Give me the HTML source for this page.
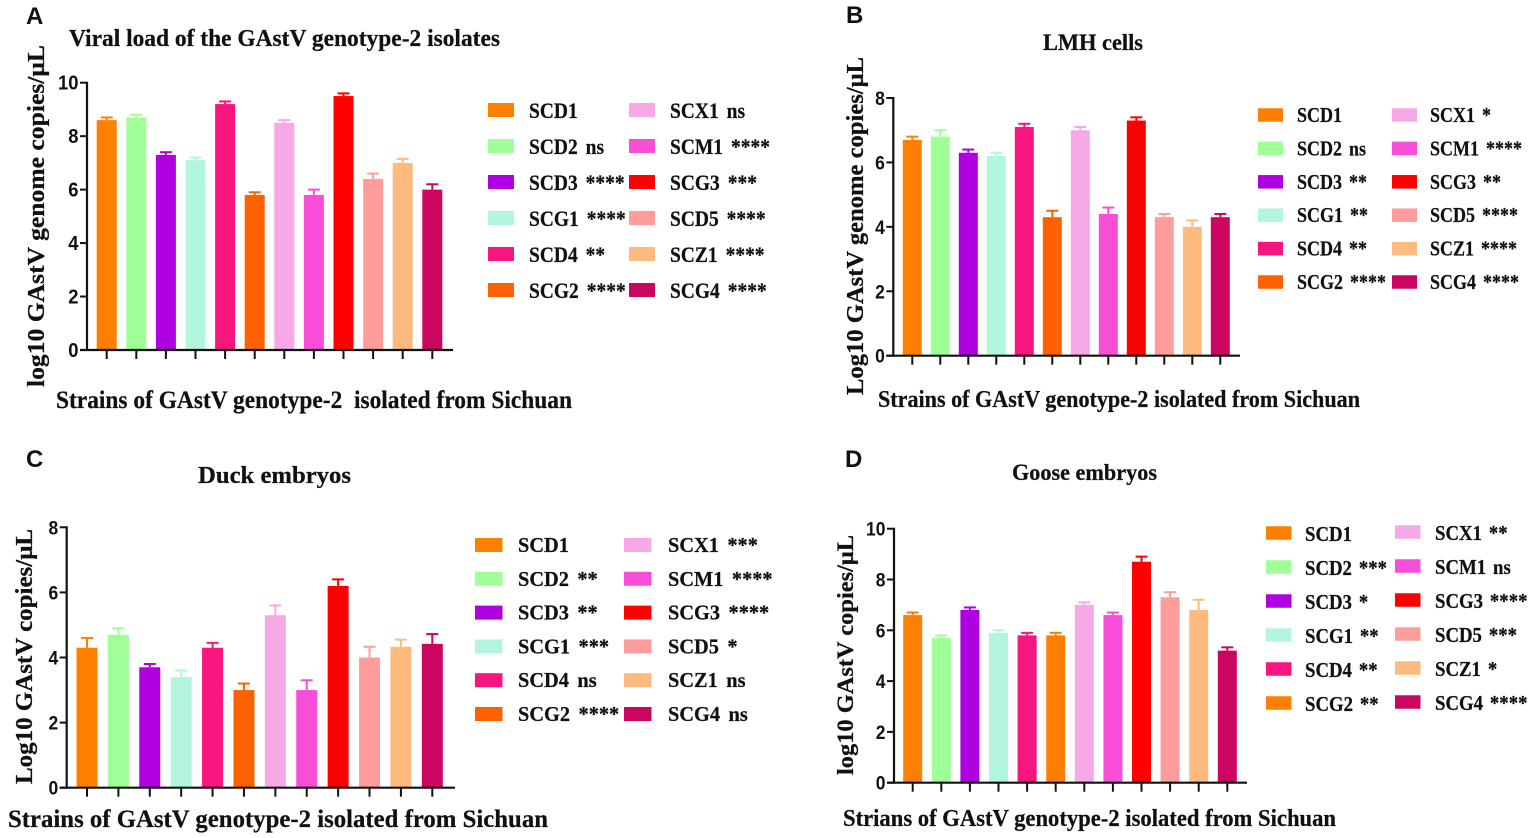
<!DOCTYPE html>
<html lang="en">
<head>
<meta charset="utf-8">
<title>Viral load of GAstV genotype-2 isolates</title>
<style>
html,body{margin:0;padding:0;background:#fff;width:1535px;height:838px;overflow:hidden}
svg{display:block;filter:blur(0.35px)}
.serif{font-family:"Liberation Serif",serif;font-weight:bold;fill:#111;stroke:#111;stroke-width:0.25px}
.sans{font-family:"Liberation Sans",sans-serif;font-weight:bold;fill:#111}
</style>
</head>
<body>
<svg id="figure" xmlns="http://www.w3.org/2000/svg" width="1535" height="838" viewBox="0 0 1535 838">
  <rect width="1535" height="838" fill="#fff"/>

  <g id="panel-a">
    <text class="sans" x="26" y="24" font-size="24">A</text>
    <text class="serif" x="69" y="46" font-size="24" textLength="431" lengthAdjust="spacingAndGlyphs">Viral load of the GAstV genotype-2 isolates</text>
    <text class="serif" x="56" y="408" font-size="25" textLength="516" lengthAdjust="spacingAndGlyphs" xml:space="preserve">Strains of GAstV genotype-2  isolated from Sichuan</text>
    <text class="serif" transform="translate(44,387) rotate(-90)" font-size="24" textLength="342" lengthAdjust="spacingAndGlyphs">log10 GAstV genome copies/μL</text>
  </g>

  <g id="panel-b">
    <text class="sans" x="846" y="23" font-size="24">B</text>
    <text class="serif" x="1043" y="50" font-size="23" textLength="100" lengthAdjust="spacingAndGlyphs">LMH cells</text>
    <text class="serif" x="878" y="407" font-size="24" textLength="482" lengthAdjust="spacingAndGlyphs">Strains of GAstV genotype-2 isolated from Sichuan</text>
    <text class="serif" transform="translate(863,395) rotate(-90)" font-size="24" textLength="338" lengthAdjust="spacingAndGlyphs">Log10 GAstV genome copies/μL</text>
  </g>

  <g id="panel-c">
    <text class="sans" x="26" y="467" font-size="24">C</text>
    <text class="serif" x="198" y="483" font-size="24" textLength="153" lengthAdjust="spacingAndGlyphs">Duck embryos</text>
    <text class="serif" x="8" y="827" font-size="25" textLength="540" lengthAdjust="spacingAndGlyphs">Strains of GAstV genotype-2 isolated from Sichuan</text>
    <text class="serif" transform="translate(32,784) rotate(-90)" font-size="24" textLength="255" lengthAdjust="spacingAndGlyphs">Log10 GAstV copies/μL</text>
  </g>

  <g id="panel-d">
    <text class="sans" x="845" y="467" font-size="24">D</text>
    <text class="serif" x="1012" y="480" font-size="23" textLength="145" lengthAdjust="spacingAndGlyphs">Goose embryos</text>
    <text class="serif" x="843" y="826" font-size="24" textLength="493" lengthAdjust="spacingAndGlyphs">Strians of GAstV genotype-2 isolated from Sichuan</text>
    <text class="serif" transform="translate(853,775) rotate(-90)" font-size="23" textLength="240" lengthAdjust="spacingAndGlyphs">log10 GAstV copies/μL</text>
  </g>
</svg>

<script>
var strainsAbc = ['SCD1','SCD2','SCD3','SCG1','SCD4','SCG2','SCX1','SCM1','SCG3','SCD5','SCZ1','SCG4'];
var barColors = ['#ff8000','#a0ff96','#ae00e0','#b2f7dd','#f7157e','#ff6000','#f7a8e6','#f94fd8','#ff0000','#ff9c9c','#ffbb7f','#cc0660'];
var barColorsD = ['#ff8000','#a0ff96','#ae00e0','#b2f7dd','#f7157e','#ff8000','#f7a8e6','#f94fd8','#ff0000','#ff9c9c','#ffbb7f','#cc0660'];

var valuesA = [8.6,8.7,7.3,7.1,9.2,5.8,8.5,5.8,9.5,6.4,7.0,6.0];
var errorsA = [0.1,0.1,0.1,0.1,0.1,0.1,0.1,0.2,0.1,0.2,0.15,0.2];
var signifA = ['','ns','****','****','**','****','ns','****','***','****','****','****'];
var ticksA = [0,2,4,6,8,10];

var valuesB = [6.7,6.8,6.3,6.2,7.1,4.3,7.0,4.4,7.3,4.3,4.0,4.3];
var errorsB = [0.1,0.2,0.1,0.1,0.1,0.2,0.1,0.2,0.1,0.1,0.2,0.1];
var signifB = ['','ns','**','**','**','****','*','****','**','****','****','****'];
var ticksB = [0,2,4,6,8];

var valuesC = [4.3,4.7,3.7,3.4,4.3,3.0,5.3,3.0,6.2,4.0,4.33,4.42];
var errorsC = [0.3,0.2,0.1,0.2,0.15,0.2,0.3,0.3,0.2,0.33,0.22,0.3];
var signifC = ['','**','**','***','ns','****','***','****','****','*','ns','ns'];
var ticksC = [0,2,4,6,8];

var valuesD = [6.6,5.7,6.8,5.9,5.8,5.8,7.0,6.6,8.7,7.3,6.8,5.2];
var errorsD = [0.1,0.1,0.1,0.1,0.1,0.1,0.1,0.1,0.2,0.2,0.4,0.13];
var signifD = ['','***','*','**','**','**','**','ns','****','***','*','****'];
var ticksD = [0,2,4,6,8,10];

var NS = 'http://www.w3.org/2000/svg';

function make(parent, tag, attrs) {
  var el = document.createElementNS(NS, tag);
  for (var k in attrs) { el.setAttribute(k, attrs[k]); }
  parent.appendChild(el);
  return el;
}

function drawPanel(p) {
  var root = document.getElementById(p.id);
  var n = p.values.length;
  var yMax = p.ticks[p.ticks.length - 1];
  function xScale(i) { return p.xFirst + (p.xLast - p.xFirst) * i / (n - 1); }
  function yScale(v) { return p.y0 - (p.y0 - p.yTop) * v / yMax; }

  var i, el;
  for (i = 0; i < n; i++) {
    var cx = xScale(i);
    var top = yScale(p.values[i]);
    var capY = yScale(p.values[i] + p.errors[i]);
    var color = p.colors[i];

    el = make(root, 'line', {x1: cx, x2: cx, y1: top, y2: capY, stroke: color, 'stroke-width': 2});
    
    

    el = make(root, 'line', {x1: cx - 6, x2: cx + 6, y1: capY, y2: capY, stroke: color, 'stroke-width': 2});
    
    

    el = make(root, 'rect', {x: cx - p.barW / 2, y: top, width: p.barW, height: p.y0 - top, fill: color});
    
    

    el = make(root, 'line', {x1: cx, x2: cx, y1: p.y0, y2: p.y0 + 9, stroke: '#111', 'stroke-width': 2});
    
    
  }

  el = make(root, 'line', {x1: p.xAxis, x2: p.xAxis, y1: p.yTop - 1, y2: p.y0 + 1, stroke: '#111', 'stroke-width': 2.2});
  
  

  el = make(root, 'line', {x1: p.xAxis - 7, x2: p.xEnd, y1: p.y0, y2: p.y0, stroke: '#111', 'stroke-width': 2.2});
  
  

  p.ticks.forEach(function (t) {
    var ty = yScale(t);
    var tick = make(root, 'line', {x1: p.xAxis - 7, x2: p.xAxis, y1: ty, y2: ty, stroke: '#111', 'stroke-width': 2});
    
    

    var label = make(root, 'text', {transform: 'translate(' + (p.xAxis - 8.5) + ',' + (ty + 7) + ') scale(0.92,1)', 'text-anchor': 'end', 'font-size': p.tickFont, 'class': 'sans'});
    
    
    label.textContent = String(t);
  });

  var perColumn = n / 2;
  for (i = 0; i < n; i++) {
    var col = Math.floor(i / perColumn);
    var row = i % perColumn;
    var rowY = (col === 0 ? p.legY : p.legY2) + row * p.legStep;

    var swatch = make(root, 'rect', {x: p.swX[col], y: rowY - p.swH / 2, width: p.swW, height: p.swH, fill: p.colors[i]});
    
    

    var text = make(root, 'text', {transform: 'translate(' + p.txtX[col] + ',' + (rowY + p.legDy) + ') scale(' + p.legScale + ',1)', 'font-size': p.legFont, 'word-spacing': p.legGap, 'class': 'serif'});
    
    
    text.textContent = strainsAbc[i] + (p.signif[i] ? ' ' + p.signif[i] : '');
  }
}

drawPanel({id:'panel-a', values:valuesA, errors:errorsA, signif:signifA, ticks:ticksA, colors:barColors,
  xFirst:106.7, xLast:432.3, barW:20, y0:350, yTop:82.7, xAxis:87, xEnd:453, tickFont:20,
  legY:110, legY2:110, legStep:36, legDy:8, legFont:22, legScale:0.886, legGap:3.5, swX:[488,629], swW:26, swH:14, txtX:[529,670]});

drawPanel({id:'panel-b', values:valuesB, errors:errorsB, signif:signifB, ticks:ticksB, colors:barColors,
  xFirst:912.3, xLast:1220.3, barW:19, y0:355.7, yTop:98, xAxis:893.3, xEnd:1240, tickFont:19,
  legY:115, legY2:115, legStep:33.4, legDy:7, legFont:21, legScale:0.857, legGap:3, swX:[1258,1392], swW:25, swH:13.5, txtX:[1297,1430]});

drawPanel({id:'panel-c', values:valuesC, errors:errorsC, signif:signifC, ticks:ticksC, colors:barColors,
  xFirst:87, xLast:432.3, barW:21, y0:787.7, yTop:527.3, xAxis:66.7, xEnd:455, tickFont:19,
  legY:545, legY2:545, legStep:33.8, legDy:7, legFont:21, legScale:0.97, legGap:3.5, swX:[475,624], swW:27.5, swH:14, txtX:[518,668]});

drawPanel({id:'panel-d', values:valuesD, errors:errorsD, signif:signifD, ticks:ticksD, colors:barColorsD,
  xFirst:912.7, xLast:1227.3, barW:19, y0:782.7, yTop:528.7, xAxis:894, xEnd:1247, tickFont:19,
  legY:533, legY2:532, legStep:34, legDy:8, legFont:21, legScale:0.895, legGap:2.5, swX:[1266,1395], swW:25.5, swH:13.5, txtX:[1305,1435]});
</script>
</body>
</html>
